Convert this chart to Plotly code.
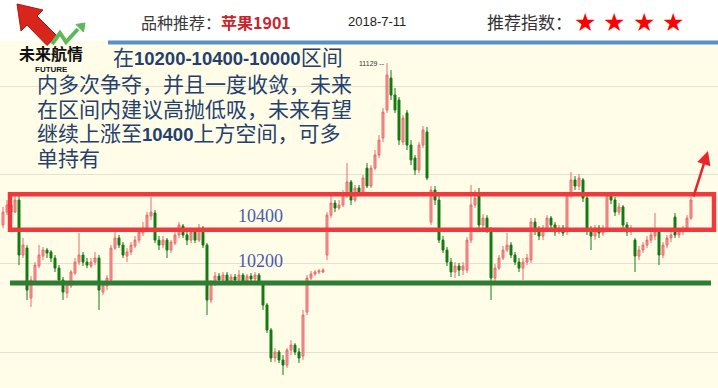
import plotly.graph_objects as go

W, H = 718, 388

# ---------------- data (apple futures AP1901, price) ----------------
opens = [10216, 10289, 10329, 10289, 10357, 10047, 10086, 9804, 9895, 9985,
         10041, 10075, 10064, 10030, 9973, 9906, 9833, 9872, 9945, 10007,
         10047, 10007, 9985, 10007, 10030, 9838, 9872, 9906, 10086, 10143,
         10103, 10041, 10064, 10098, 10131, 10171, 10199, 10267, 10284, 10131,
         10103, 10131, 10075, 10114, 10160, 10210, 10160, 10131, 10177, 10131,
         10199, 10103, 9793, 9889, 9928, 9906, 9934, 9895, 9923, 9906,
         9934, 9900, 9928, 9912, 9934, 9889, 9765, 9624, 9466, 9500,
         9455, 9426, 9511, 9539, 9500, 9477, 9725, 9917, 9940, 9951,
         9951, 10047, 10272, 10340, 10312, 10329, 10385, 10459, 10357, 10425,
         10402, 10537, 10436, 10537, 10611, 10707, 10865, 11045, 10949, 10921,
         10684, 10848, 10667, 10594, 10526, 10667, 10741, 10233, 10413, 10357,
         10131, 10075, 10007, 9951, 9985, 9962, 9962, 10131, 10329, 10385,
         10216, 10255, 10188, 9917, 9973, 10030, 10075, 10103, 10047, 10007,
         9973, 10007, 10019, 10233, 10188, 10154, 10199, 10255, 10216, 10177,
         10199, 10177, 10385, 10470, 10436, 10470, 10368, 10188, 10154, 10199,
         10171, 10188, 10385, 10357, 10289, 10318, 10216, 10177, 10131, 10041,
         10075, 10103, 10131, 10154, 10177, 10047, 10103, 10143, 10261, 10160,
         10177, 10188, 10255]
highs = [10318, 10357, 10346, 10385, 10396, 10143, 10103, 9928, 10007, 10103,
         10092, 10086, 10075, 10047, 9990, 9923, 9895, 9962, 10030, 10171,
         10064, 10030, 10030, 10064, 10047, 9895, 9934, 10103, 10177, 10160,
         10120, 10086, 10120, 10154, 10199, 10233, 10289, 10374, 10301, 10154,
         10154, 10143, 10131, 10177, 10233, 10222, 10177, 10188, 10188, 10222,
         10210, 10114, 9906, 9951, 9945, 9951, 9951, 9940, 9940, 9962,
         9945, 9940, 9945, 9951, 9945, 9900, 9776, 9635, 9522, 9511,
         9483, 9522, 9567, 9550, 9522, 9737, 9934, 9957, 9962, 9968,
         9973, 10289, 10385, 10357, 10357, 10413, 10566, 10470, 10442, 10442,
         10498, 10566, 10554, 10639, 10724, 10876, 11129, 11090, 10989, 10938,
         10836, 10865, 10695, 10611, 10684, 10774, 10769, 10436, 10436, 10385,
         10154, 10092, 10030, 10007, 10002, 10007, 10148, 10442, 10413, 10425,
         10278, 10272, 10205, 9996, 10047, 10098, 10171, 10120, 10064, 10030,
         10030, 10053, 10255, 10255, 10210, 10216, 10272, 10267, 10233, 10216,
         10216, 10402, 10515, 10492, 10503, 10481, 10385, 10210, 10216, 10216,
         10216, 10402, 10402, 10374, 10340, 10329, 10233, 10216, 10143, 10098,
         10120, 10154, 10177, 10284, 10188, 10120, 10160, 10177, 10284, 10193,
         10210, 10272, 10379]
lows = [10199, 10272, 10272, 10284, 9990, 10030, 9793, 9754, 9878, 9973,
        10019, 10030, 10007, 9951, 9889, 9793, 9804, 9861, 9934, 9990,
        9985, 9973, 9973, 9990, 9737, 9821, 9849, 9889, 10075, 10086,
        10030, 10007, 10047, 10086, 10114, 10154, 10188, 10244, 10114, 10075,
        10086, 10030, 10058, 10103, 10143, 10143, 10103, 10114, 10114, 10120,
        10086, 9708, 9776, 9872, 9883, 9889, 9878, 9878, 9889, 9889,
        9883, 9883, 9889, 9895, 9878, 9737, 9607, 9443, 9443, 9438,
        9370, 9409, 9483, 9483, 9438, 9455, 9708, 9906, 9928, 9940,
        9945, 10019, 10255, 10289, 10301, 10318, 10368, 10329, 10346, 10385,
        10385, 10425, 10425, 10526, 10594, 10684, 10848, 10921, 10848, 10667,
        10667, 10639, 10554, 10498, 10509, 10650, 10470, 10216, 10329, 10114,
        10058, 9985, 9923, 9917, 9928, 9934, 9945, 10114, 10312, 10199,
        10199, 10171, 9793, 9895, 9962, 10019, 10064, 10030, 9990, 9951,
        9906, 9990, 10002, 10160, 10131, 10131, 10188, 10199, 10154, 10165,
        10154, 10160, 10368, 10413, 10413, 10346, 10160, 10075, 10131, 10143,
        10154, 10177, 10334, 10267, 10272, 10199, 10154, 10160, 9951, 10019,
        10058, 10086, 10114, 10131, 9990, 10030, 10086, 10120, 10143, 10143,
        10160, 10177, 10244]
closes = [10289, 10329, 10289, 10357, 10047, 10103, 9849, 9906, 9990, 10047,
          10075, 10058, 10030, 9973, 9906, 9838, 9878, 9951, 10007, 10047,
          10007, 9990, 10007, 10030, 9849, 9878, 9917, 10086, 10143, 10103,
          10047, 10064, 10103, 10131, 10177, 10199, 10272, 10289, 10131, 10103,
          10131, 10075, 10120, 10160, 10216, 10160, 10131, 10177, 10131, 10199,
          10103, 9793, 9889, 9928, 9906, 9934, 9895, 9923, 9906, 9934,
          9900, 9928, 9912, 9934, 9889, 9765, 9624, 9466, 9500, 9455,
          9426, 9511, 9539, 9500, 9466, 9708, 9917, 9940, 9951, 9957,
          9962, 10272, 10340, 10312, 10329, 10385, 10459, 10357, 10425, 10402,
          10481, 10436, 10537, 10611, 10695, 10853, 11062, 10949, 10865, 10695,
          10819, 10667, 10583, 10526, 10667, 10752, 10481, 10413, 10357, 10131,
          10075, 10007, 9951, 9985, 9962, 9985, 10131, 10329, 10368, 10216,
          10255, 10188, 9917, 9973, 10030, 10075, 10103, 10047, 10007, 9973,
          10007, 10030, 10233, 10188, 10154, 10199, 10255, 10216, 10177, 10199,
          10171, 10385, 10470, 10436, 10481, 10368, 10188, 10154, 10199, 10171,
          10199, 10385, 10357, 10289, 10318, 10216, 10177, 10199, 10041, 10075,
          10103, 10131, 10160, 10177, 10047, 10103, 10143, 10160, 10160, 10177,
          10188, 10255, 10357]

box_top, box_bottom = 10390, 10190     # red range box
support_level = 9889                   # green support line
level_labels = ["10400", "10200"]
gridlines = [9500, 10000, 10500, 11000]

product_label = "品种推荐："
product = "苹果1901"
date_text = "2018-7-11"
rating_label = "推荐指数："
rating_stars = 4
NUM = "<span style='font-family:Liberation Sans;font-size:18.5px'><b>{}</b></span>"
comment_lines = [
    "在" + NUM.format("10200-10400-10000") + "区间",
    "内多次争夺，并且一度收敛，未来",
    "在区间内建议高抛低吸，未来有望",
    "继续上涨至" + NUM.format("10400") + "上方空间，可多",
    "单持有",
]

# ---------------- helpers for page layout (pixels -> paper) ----------------
def px(x):
    return x / W

def py(y):
    return 1 - y / H

def path(points):
    return "M " + " L ".join(f"{px(a):.5f},{py(b):.5f}" for a, b in points) + " Z"

idx = list(range(len(closes)))

fig = go.Figure()
fig.add_trace(go.Candlestick(
    x=idx, open=opens, high=highs, low=lows, close=closes,
    increasing=dict(line=dict(color="#EC6A6C", width=1), fillcolor="#F39C9C"),
    decreasing=dict(line=dict(color="#127A12", width=1), fillcolor="#127A12"),
    whiskerwidth=0, hoverinfo="skip",
))

shapes = []
# white header band
shapes.append(dict(type="rect", xref="paper", yref="paper", x0=0, x1=1, y0=py(41), y1=1,
                   fillcolor="white", line=dict(width=0), layer="below"))
# blue rule
shapes.append(dict(type="line", xref="paper", yref="paper", x0=px(108), x1=1, y0=py(42.5), y1=py(42.5),
                   line=dict(color="#5B8FC9", width=4)))
# red range box
shapes.append(dict(type="rect", xref="paper", yref="y", x0=px(10), x1=px(714), y0=box_bottom, y1=box_top,
                   line=dict(color="#F0393C", width=4.5), fillcolor="rgba(0,0,0,0)", layer="above"))
# green support line
shapes.append(dict(type="line", xref="paper", yref="y", x0=px(10), x1=px(711), y0=support_level, y1=support_level,
                   line=dict(color="#2E7D32", width=5), layer="above"))
# logo: red arrow
shapes.append(dict(type="path", xref="paper", yref="paper",
                   path=path([(17, 4), (43, 10), (37, 16), (57, 36), (47, 45.5), (27, 25), (21, 31)]),
                   fillcolor="#D9261C", line=dict(color="#B01810", width=1)))
# logo: green zigzag arrow
shapes.append(dict(type="path", xref="paper", yref="paper",
                   path="M " + " L ".join(f"{px(a):.5f},{py(b):.5f}" for a, b in [(52, 44), (60, 33), (66, 42), (78, 29)]),
                   line=dict(color="#5DB85B", width=4), fillcolor="rgba(0,0,0,0)"))
shapes.append(dict(type="path", xref="paper", yref="paper",
                   path=path([(85, 23), (83.5, 32), (76, 24.5)]),
                   fillcolor="#5DB85B", line=dict(color="#5DB85B", width=1)))

ann = []
cjk = "Noto Sans CJK SC"
ann.append(dict(xref="paper", yref="paper", x=px(17), y=py(53), xanchor="left", yanchor="middle",
                text="<b>未来航情</b>", showarrow=False, font=dict(family=cjk, size=16, color="#111")))
ann.append(dict(xref="paper", yref="paper", x=px(33), y=py(69), xanchor="left", yanchor="middle",
                text="<b>FUTURE</b>", showarrow=False, font=dict(family="Liberation Sans", size=8, color="#111")))
ann.append(dict(xref="paper", yref="paper", x=px(139), y=py(22), xanchor="left", yanchor="middle",
                text=f"{product_label}<span style='color:#C8242B'><b>{product}</b></span>", showarrow=False,
                font=dict(family=cjk, size=16, color="#3A3A3A")))
ann.append(dict(xref="paper", yref="paper", x=px(346), y=py(21), xanchor="left", yanchor="middle",
                text=date_text, showarrow=False, font=dict(family="Liberation Sans", size=13, color="#222")))
ann.append(dict(xref="paper", yref="paper", x=px(485), y=py(21), xanchor="left", yanchor="middle",
                text=rating_label, showarrow=False, font=dict(family=cjk, size=17, color="#333")))
for k in range(rating_stars):
    ann.append(dict(xref="paper", yref="paper", x=px(585 + 29.3 * k), y=py(22), xanchor="center", yanchor="middle",
                    text="★", showarrow=False, font=dict(family="DejaVu Sans", size=25, color="#FF0000")))

line_y = [56, 83, 108, 132, 157]
line_x = [111, 35, 35, 35, 35]
for t, lx, ly in zip(comment_lines, line_x, line_y):
    ann.append(dict(xref="paper", yref="paper", x=px(lx), y=py(ly), xanchor="left", yanchor="middle",
                    text=t, showarrow=False, font=dict(family=cjk, size=21, color="#253F6E")))

ann.append(dict(xref="paper", yref="paper", x=px(236), y=py(216), xanchor="left", yanchor="middle",
                text=level_labels[0], showarrow=False, font=dict(family="Liberation Serif", size=18, color="#4A5AAE")))
ann.append(dict(xref="paper", yref="paper", x=px(236), y=py(261), xanchor="left", yanchor="middle",
                text=level_labels[1], showarrow=False, font=dict(family="Liberation Serif", size=18, color="#4A5AAE")))

hi = max(highs)
hi_i = highs.index(hi)
ann.append(dict(xref="x", yref="y", x=hi_i - 0.1, y=hi, xanchor="right", yanchor="middle",
                text=f"{hi} --", showarrow=False, font=dict(family="Liberation Sans", size=7, color="#333")))

# red forecast arrow
ann.append(dict(xref="paper", yref="paper", x=px(708), y=py(151), ax=-15, ay=47, text="",
                showarrow=True, arrowhead=2, arrowsize=1.1, arrowwidth=2.5, arrowcolor="#E8262A"))

fig.update_layout(
    width=W, height=H, margin=dict(l=0, r=0, t=0, b=0),
    paper_bgcolor="white", plot_bgcolor="#FFFDE8",
    showlegend=False, shapes=shapes, annotations=ann,
    xaxis=dict(range=[-0.75, -0.75 + W / 4], visible=False, rangeslider=dict(visible=False), fixedrange=True),
    yaxis=dict(range=[9297, 11485], tickvals=gridlines, showticklabels=False, gridcolor="#E3E1D3",
               gridwidth=1, zeroline=False, showline=False, fixedrange=True),
)

fig.write_html("out.html")
